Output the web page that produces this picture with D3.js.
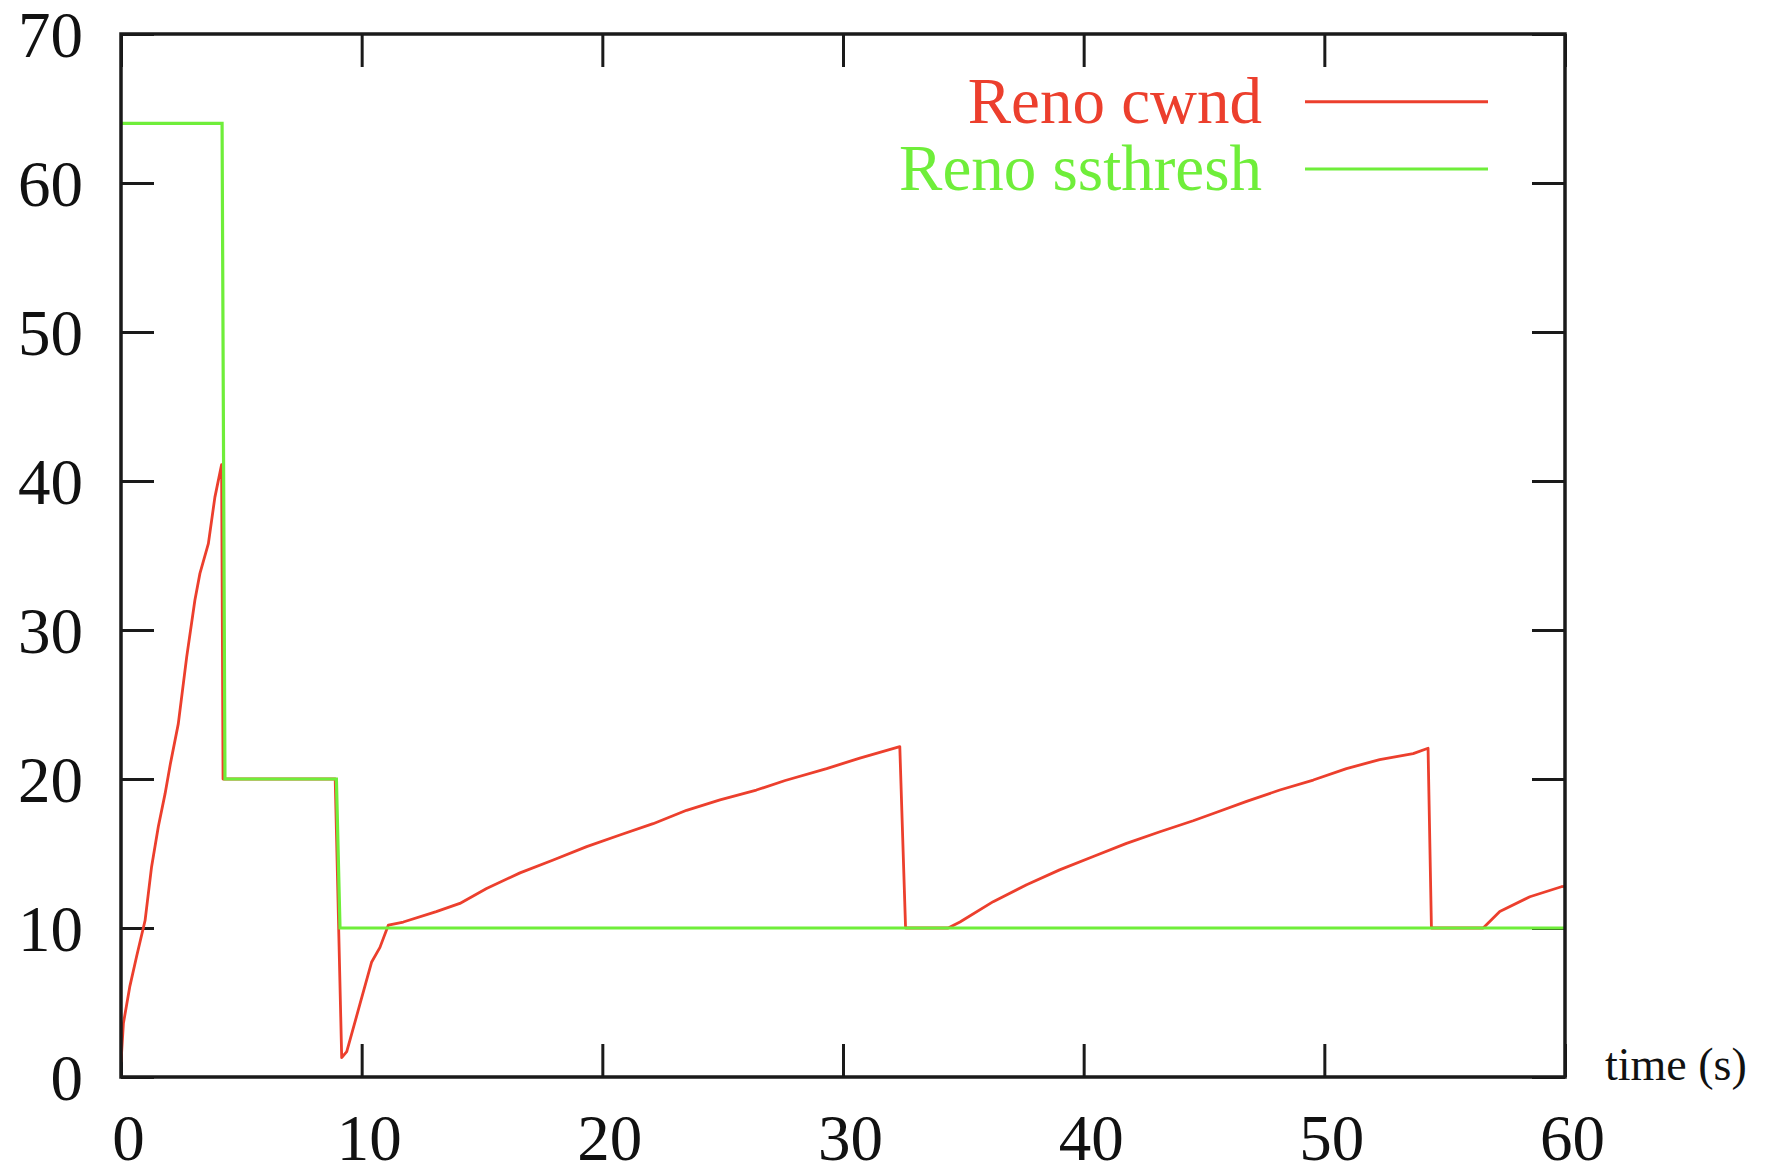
<!DOCTYPE html>

<html xmlns="http://www.w3.org/1999/xhtml">
<head>
    <meta charset="utf-8" />
    <script src="https://d3js.org/d3.v7.min.js"></script>
    <title></title>
    <style>
        body {
            margin: 0;
            background: #fff;
        }
        .axis text {
            font-family: "Liberation Serif", "Times New Roman", serif;
            font-size: 65px;
            fill: #111;
        }
        .axis line, .axis path {
            stroke: #1a1a1a;
            stroke-width: 3px;
        }
        .legendText {
            font-family: "Liberation Serif", "Times New Roman", serif;
            font-size: 65px;
        }
    </style>
</head>

<body>
    <script>
        // values
        var xTicks = [0, 10, 20, 30, 40, 50, 60];
        var yTicks = [0, 10, 20, 30, 40, 50, 60, 70];

        var cwndTime = [0, 0.1, 0.37, 0.65, 1.0, 1.27, 1.55, 1.83, 2.05, 2.38, 2.73, 3.07, 3.28, 3.63, 3.9, 4.18,
            4.24, 8.9, 9.17, 9.38, 9.93, 10.41, 10.76, 11.11, 11.73, 13.1, 14.08, 15.19, 16.58, 17.96, 19.35,
            20.73, 22.11, 23.5, 24.89, 26.4, 27.6, 29.32, 30.7, 32.36, 32.6, 34.37, 34.86, 36.24, 37.63, 39.0,
            40.4, 41.78, 43.17, 44.55, 45.5, 46.77, 48.15, 49.54, 50.92, 52.3, 53.69, 54.31, 54.45, 56.6,
            57.29, 58.54, 59.85, 60];
        var cwndValue = [1.0, 3.6, 6.1, 8.1, 10.5, 14.1, 16.8, 19.0, 21.0, 23.7, 28.2, 32.0, 33.8, 35.8, 38.9, 41.1,
            20, 20, 1.3, 1.7, 4.9, 7.7, 8.7, 10.2, 10.4, 11.1, 11.65, 12.65, 13.7, 14.56, 15.46,
            16.24, 17.0, 17.9, 18.6, 19.26, 19.9, 20.7, 21.4, 22.17, 10, 10, 10.4, 11.77, 12.9, 13.9,
            14.8, 15.68, 16.46, 17.2, 17.75, 18.5, 19.26, 19.93, 20.7, 21.3, 21.7, 22.06, 10, 10,
            11.1, 12.1, 12.77, 12.8];

        var ssthreshTime = [0, 4.2, 4.32, 8.95, 9.1, 60];
        var ssthreshValue = [64, 64, 20, 20, 10, 10];

        var seriesNames = ["Reno cwnd", "Reno ssthresh"];
        var seriesColors = ["#ec3f2d", "#6fee3a"];

        var svgWidth = 1769,
            svgHeight = 1174,
            plotLeft = 121,
            plotRight = 1565,
            plotTop = 34,
            plotBottom = 1077,
            tickLen = 33;

        var svg = d3.select("body")
            .append("svg")
            .attr("width", svgWidth)
            .attr("height", svgHeight);

        var x = d3.scaleLinear().domain([0, 60]).range([plotLeft, plotRight]);
        var y = d3.scaleLinear().domain([0, 70]).range([plotBottom, plotTop]);

        svg.append("clipPath").attr("id", "plotClip")
            .append("rect")
            .attr("x", plotLeft).attr("y", plotTop)
            .attr("width", plotRight - plotLeft).attr("height", plotBottom - plotTop);

        // axes with inward ticks on all four sides (drawn under the lines)
        var bottomAxis = svg.append("g")
            .attr("class", "axis")
            .attr("transform", "translate(0," + plotBottom + ")")
            .call(d3.axisBottom(x).tickValues(xTicks).tickSizeInner(-tickLen).tickSizeOuter(0));
        bottomAxis.selectAll("text")
            .attr("y", 83)
            .attr("dy", 0)
            .attr("dx", 7);

        var leftAxis = svg.append("g")
            .attr("class", "axis")
            .attr("transform", "translate(" + plotLeft + ",0)")
            .call(d3.axisLeft(y).tickValues(yTicks).tickSizeInner(-tickLen).tickSizeOuter(0));
        leftAxis.selectAll("text")
            .attr("x", -38)
            .attr("dy", 22);

        svg.append("g")
            .attr("class", "axis")
            .attr("transform", "translate(0," + plotTop + ")")
            .call(d3.axisTop(x).tickValues(xTicks).tickSizeInner(-tickLen).tickSizeOuter(0).tickFormat(""));

        svg.append("g")
            .attr("class", "axis")
            .attr("transform", "translate(" + plotRight + ",0)")
            .call(d3.axisRight(y).tickValues(yTicks).tickSizeInner(-tickLen).tickSizeOuter(0).tickFormat(""));

        svg.selectAll(".axis .domain").remove();

        // lines: cwnd first, ssthresh on top
        var line = d3.line()
            .x(function(d) { return x(d[0]); })
            .y(function(d) { return y(d[1]); });

        var cwnd = cwndTime.map(function(t, i) { return [t, cwndValue[i]]; });
        var ssthresh = ssthreshTime.map(function(t, i) { return [t, ssthreshValue[i]]; });

        var lines = svg.append("g").attr("clip-path", "url(#plotClip)");
        lines.append("path")
            .datum(cwnd)
            .attr("d", line)
            .attr("fill", "none")
            .attr("stroke", seriesColors[0])
            .attr("stroke-width", 2.8)
            .attr("stroke-linejoin", "round");
        lines.append("path")
            .datum(ssthresh)
            .attr("d", line)
            .attr("fill", "none")
            .attr("stroke", seriesColors[1])
            .attr("stroke-width", 3.2);

        svg.append("rect")
            .attr("x", plotLeft).attr("y", plotTop)
            .attr("width", plotRight - plotLeft).attr("height", plotBottom - plotTop)
            .attr("fill", "none")
            .attr("stroke", "#1a1a1a")
            .attr("stroke-width", 3.5);

        svg.append("text")
            .attr("x", 1605)
            .attr("y", 1080)
            .attr("font-family", "Liberation Serif, Times New Roman, serif")
            .attr("font-size", 46)
            .attr("fill", "#111")
            .text("time (s)");

        // legend, top right inside the box
        var legendBase = [123, 190];
        var legendLine = [101.7, 169];
        seriesNames.forEach(function(name, i) {
            svg.append("text")
                .attr("class", "legendText")
                .attr("x", 1262)
                .attr("y", legendBase[i])
                .attr("text-anchor", "end")
                .attr("fill", seriesColors[i])
                .text(name);
            svg.append("line")
                .attr("x1", 1305).attr("x2", 1488)
                .attr("y1", legendLine[i]).attr("y2", legendLine[i])
                .attr("stroke", seriesColors[i])
                .attr("stroke-width", 3);
        });
    </script>
</body>
</html>
